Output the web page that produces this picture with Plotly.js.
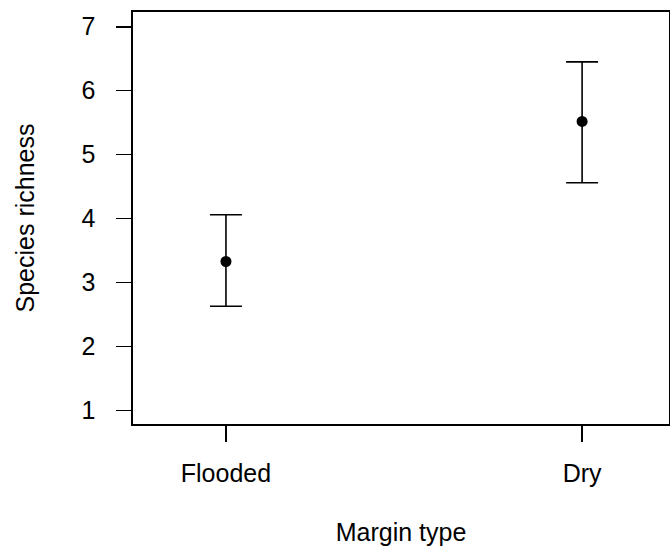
<!DOCTYPE html>
<html>
<head>
<meta charset="utf-8">
<script src="https://cdn.plot.ly/plotly-3.0.1.min.js"></script>
<style>html,body{margin:0;padding:0;background:#fff;}#chart{width:670px;height:548px;}</style>
</head>
<body>
<div id="chart"></div>
<script>
const categories = ["Flooded", "Dry"];
const meanRichness = [3.33, 5.52];
const upperBound = [4.06, 6.45];
const lowerBound = [2.63, 4.56];
const yTicks = [1, 2, 3, 4, 5, 6, 7];

const errPlus = meanRichness.map((m, i) => upperBound[i] - m);
const errMinus = meanRichness.map((m, i) => m - lowerBound[i]);

const font = {family: "Liberation Sans, Arial, sans-serif", size: 25, color: "#000"};

const trace = {
  type: "scatter",
  mode: "markers",
  x: categories,
  y: meanRichness,
  marker: {color: "#000", size: 11, symbol: "circle"},
  error_y: {
    type: "data",
    symmetric: false,
    array: errPlus,
    arrayminus: errMinus,
    color: "#000",
    thickness: 1.6,
    width: 16
  },
  hoverinfo: "x+y"
};

const layout = {
  width: 670,
  height: 548,
  margin: {l: 133, r: 1, t: 12, b: 124},
  paper_bgcolor: "#fff",
  plot_bgcolor: "#fff",
  showlegend: false,
  font: font,
  xaxis: {
    type: "category",
    categoryarray: categories,
    range: [-0.261, 1.244],
    showgrid: false,
    zeroline: false,
    showline: true,
    mirror: true,
    linecolor: "#000",
    linewidth: 1.6,
    ticks: "outside",
    ticklen: 16,
    tickwidth: 1.6,
    tickcolor: "#000",
    ticklabelstandoff: 10,
    tickfont: font,
    title: {text: "Margin type", font: font, standoff: 38}
  },
  yaxis: {
    range: [0.79, 7.23],
    tickvals: yTicks,
    ticktext: yTicks.map(String),
    showgrid: false,
    zeroline: false,
    showline: true,
    mirror: true,
    linecolor: "#000",
    linewidth: 1.6,
    ticks: "outside",
    ticklen: 15,
    tickwidth: 1.6,
    tickcolor: "#000",
    ticklabelstandoff: 16,
    tickfont: font,
    title: {text: "Species richness", font: font, standoff: 40}
  }
};

Plotly.newPlot("chart", [trace], layout, {displayModeBar: false, staticPlot: true});
</script>
</body>
</html>
